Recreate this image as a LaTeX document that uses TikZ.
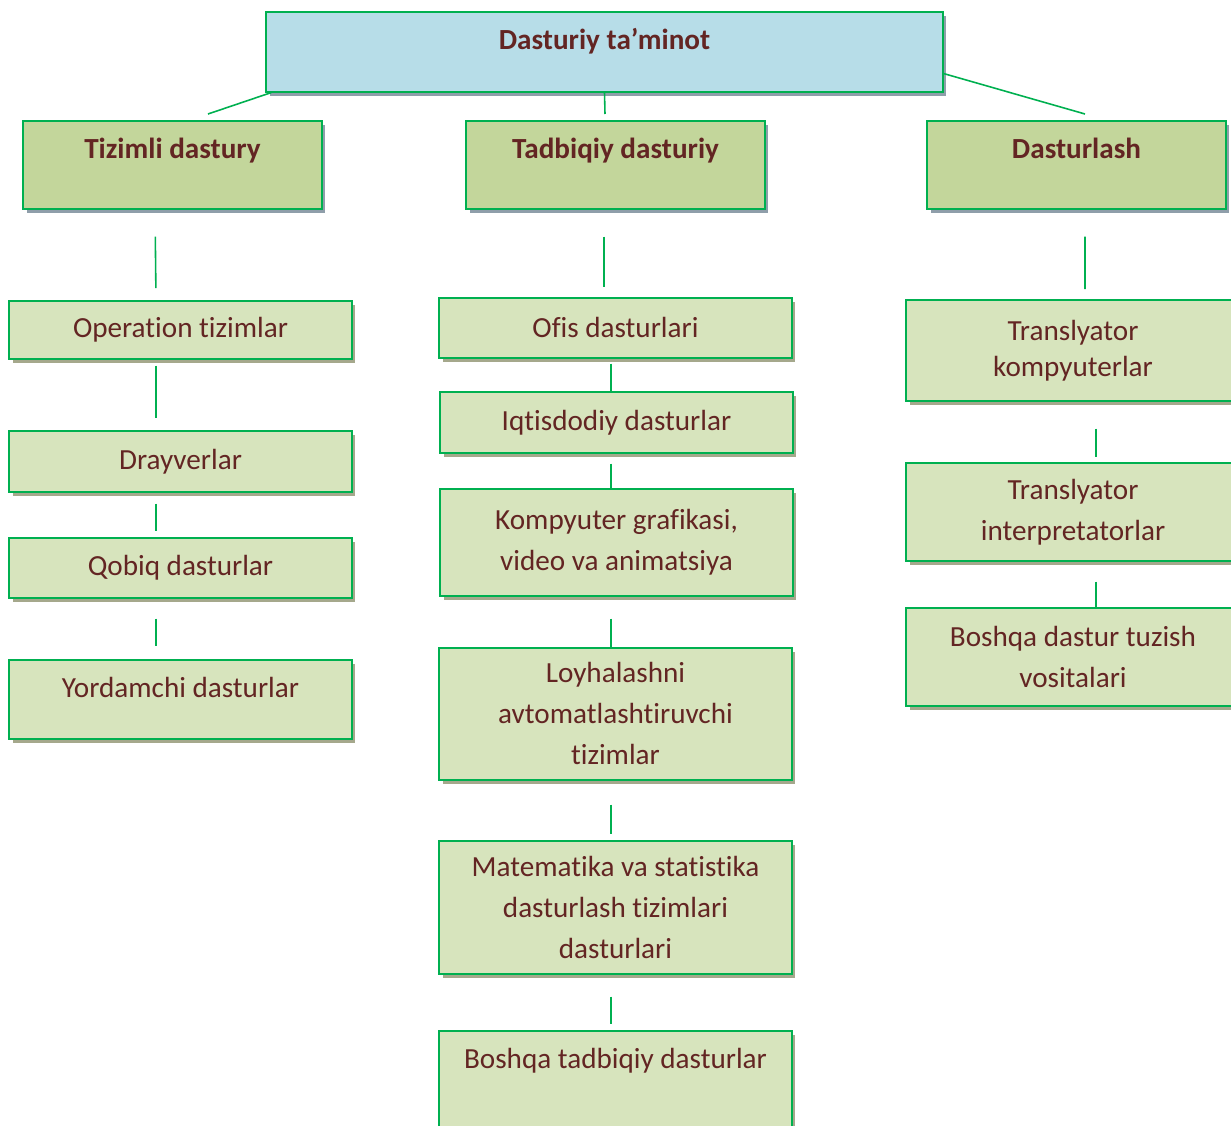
\documentclass[tikz,border=0pt]{standalone}
\usepackage{fontspec}
\setmainfont{Carlito}[Ligatures={NoCommon,NoContextual},Contextuals=NoAlternate]
\usetikzlibrary{shadows}
\definecolor{skyfill}{RGB}{183,221,232}
\definecolor{olivefill}{RGB}{195,214,155}
\definecolor{palefill}{RGB}{215,228,189}
\definecolor{edge}{RGB}{0,176,80}
\definecolor{maroon}{RGB}{99,37,35}
\definecolor{greyshade}{RGB}{143,158,170}
\definecolor{oliveshade}{RGB}{165,168,140}
\tikzset{
  softbox/.style={draw=edge,line width=0.9pt,text=maroon,align=center,anchor=north,
    inner xsep=2pt,inner ysep=0pt,font=\fontsize{16.6}{23.3}\selectfont,
    drop shadow={shadow xshift=0.07cm,shadow yshift=-0.08cm,fill=#1,opacity=1}},
  softbox/.default=oliveshade,
  rootbox/.style={softbox=greyshade,fill=skyfill,font=\fontsize{16.6}{23.3}\selectfont\bfseries,
    minimum width=13.54cm,text height=0.76cm,text depth=0.84cm},
  headbox/.style={softbox=greyshade,fill=olivefill,font=\fontsize{16.6}{23.3}\selectfont\bfseries,
    minimum width=5.98cm,text height=0.76cm,text depth=1.0cm},
  itembox/.style={softbox,fill=palefill,minimum width=6.86cm,minimum height=#1},
  topitem/.style={softbox,fill=palefill,minimum width=6.86cm,text height=0.76cm,text depth=#1},
  link/.style={draw=edge,line width=0.9pt},
}

\begin{document}
\begin{tikzpicture}[x=0.02cm,y=-0.02cm]
  \useasboundingbox (0,0) rectangle (1231,1126);
  \clip (0,0) rectangle (1231,1126);
  % top level
  \node[rootbox] (root) at (604.5,11) {Dasturiy ta’minot};
  \node[headbox] (tiz) at (172.5,120) {Tizimli dastury};
  \node[headbox] (tad) at (615.5,120) {Tadbiqiy dasturiy};
  \node[headbox] (das) at (1076.5,120) {Dasturlash};
  % left column
  \node[itembox=1.16cm] (ops) at (180.5,300) {Operation tizimlar};
  \node[itembox=1.22cm] (dray) at (180.5,430) {Drayverlar};
  \node[itembox=1.2cm] (qob) at (180.5,537) {Qobiq dasturlar};
  \node[topitem=0.82cm] (yord) at (180.5,659) {Yordamchi dasturlar};
  % middle column
  \node[itembox=1.2cm,minimum width=7.06cm] (ofis) at (615.5,297) {Ofis dasturlari};
  \node[itembox=1.22cm,minimum width=7.06cm] (iqt) at (616.5,391) {Iqtisdodiy dasturlar};
  \node[itembox=2.14cm,minimum width=7.06cm] (komp) at (616.5,488) {Kompyuter grafikasi,\\video va animatsiya};
  \node[itembox=2.64cm,minimum width=7.06cm] (loy) at (615.5,647) {Loyhalashni\\avtomatlashtiruvchi\\tizimlar};
  \node[itembox=2.66cm,minimum width=7.06cm] (mat) at (615.5,840) {Matematika va statistika\\dasturlash tizimlari\\dasturlari};
  \node[topitem=2.2cm,minimum width=7.06cm] (bosh) at (615.5,1030) {Boshqa tadbiqiy dasturlar};
  % right column
  \node[itembox=2.02cm,minimum width=6.68cm,font=\fontsize{16.6}{20.5}\selectfont] (trk) at (1073,299) {Translyator\\kompyuterlar};
  \node[itembox=1.96cm,minimum width=6.68cm] (tri) at (1073,462) {Translyator\\interpretatorlar};
  \node[itembox=1.96cm,minimum width=6.68cm] (bdt) at (1073,607) {Boshqa dastur tuzish\\vositalari};

  \draw[link] ([xshift=0.12cm]root.south west) -- ([xshift=0.71cm,yshift=0.12cm]tiz.north);
  \draw[link] (root.south) -- ([xshift=-0.21cm,yshift=0.12cm]tad.north);
  \draw[link] ([yshift=0.38cm]root.south east) -- ([xshift=0.17cm,yshift=0.12cm]das.north);

  \draw[link,shorten <=0.54cm,shorten >=0.24cm] ([xshift=-0.35cm]tiz.south) -- ([xshift=-0.49cm]ops.north);
  \draw[link,shorten <=0.12cm,shorten >=0.24cm] ([xshift=-0.49cm]ops.south) -- ([xshift=-0.49cm]dray.north);
  \draw[link,shorten <=0.22cm,shorten >=0.12cm] ([xshift=-0.49cm]dray.south) -- ([xshift=-0.49cm]qob.north);
  \draw[link,shorten <=0.4cm,shorten >=0.26cm] ([xshift=-0.49cm]qob.south) -- ([xshift=-0.49cm]yord.north);

  \draw[link,shorten <=0.54cm,shorten >=0.2cm] ([xshift=-0.23cm]tad.south) -- ([xshift=-0.23cm]ofis.north);
  \draw[link,shorten <=0.1cm] ([xshift=-0.09cm]ofis.south) -- ([xshift=-0.11cm]iqt.north);
  \draw[link,shorten <=0.2cm] ([xshift=-0.11cm]iqt.south) -- ([xshift=-0.11cm]komp.north);
  \draw[link,shorten <=0.44cm] ([xshift=-0.11cm]komp.south) -- ([xshift=-0.09cm]loy.north);
  \draw[link,shorten <=0.48cm,shorten >=0.12cm] ([xshift=-0.09cm]loy.south) -- ([xshift=-0.09cm]mat.north);
  \draw[link,shorten <=0.44cm,shorten >=0.12cm] ([xshift=-0.09cm]mat.south) -- ([xshift=-0.09cm]bosh.north);

  \draw[link,shorten <=0.54cm,shorten >=0.2cm] ([xshift=0.17cm]das.south) -- ([xshift=0.24cm]trk.north);
  \draw[link,shorten <=0.54cm,shorten >=0.1cm] ([xshift=0.46cm]trk.south) -- ([xshift=0.46cm]tri.north);
  \draw[link,shorten <=0.4cm] ([xshift=0.46cm]tri.south) -- ([xshift=0.46cm]bdt.north);
\end{tikzpicture}
\end{document}
